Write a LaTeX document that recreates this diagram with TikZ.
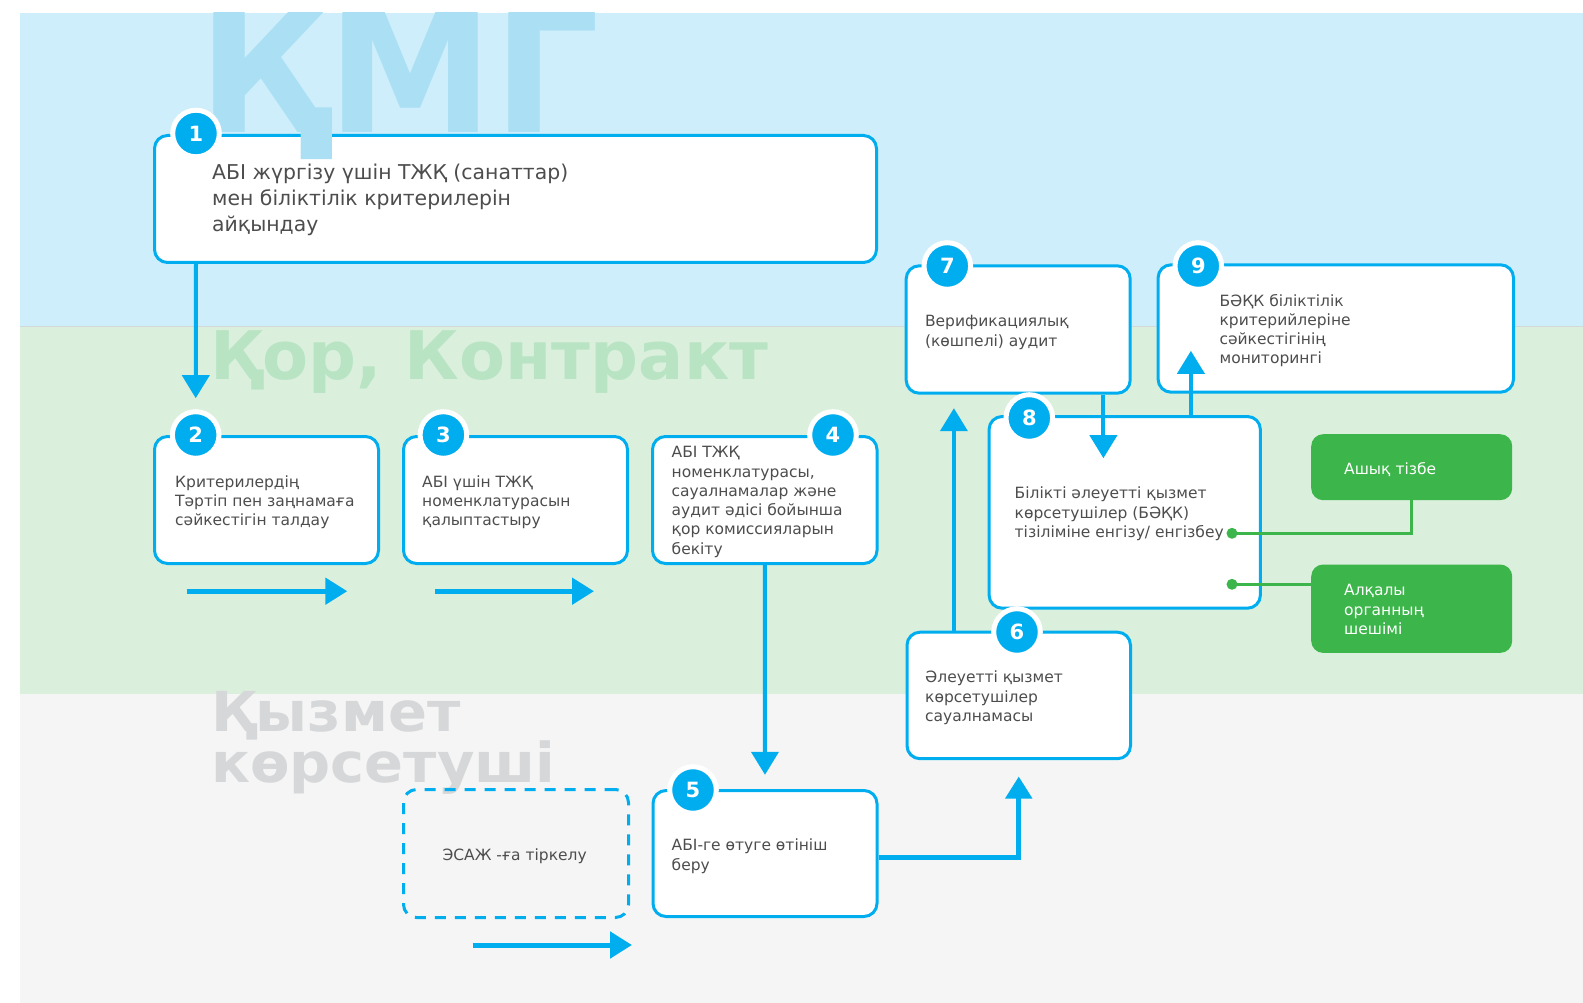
\documentclass[tikz,border=0pt]{standalone}
\usepackage{fontspec}
\setmainfont{DejaVu Sans}
\usetikzlibrary{arrows.meta}
\definecolor{kblue}{HTML}{00AEEF}
\definecolor{bandblue}{HTML}{CDEEFA}
\definecolor{bandgreen}{HTML}{DAEFDC}
\definecolor{bandgray}{HTML}{F4F5F4}
\definecolor{wmblue}{HTML}{AADFF4}
\definecolor{wmgreen}{HTML}{B8E4C4}
\definecolor{wmgray}{HTML}{D6D7D9}
\definecolor{kgreen}{HTML}{3CB54A}
\definecolor{txtgray}{HTML}{4D4D4D}
\definecolor{sepline}{HTML}{D3D9D8}
\newcommand\kbig{\fontsize{20.4}{26}\selectfont}
\newcommand\ksmall{\fontsize{15.5}{19.3}\selectfont}
\begin{document}
\begin{tikzpicture}[x=1pt,y=-1pt,
  box/.style={draw=kblue, line width=3pt, fill=white, rounded corners=13pt, inner sep=0pt, anchor=north west},
  dashbox/.style={draw=kblue, line width=3pt, dash pattern=on 11pt off 9pt, rounded corners=13pt, inner sep=0pt, anchor=north west},
  gbox/.style={fill=kgreen, rounded corners=12pt, inner sep=0pt, anchor=north west},
  num/.style={circle, fill=kblue, draw=white, line width=5pt, minimum size=46.6pt, inner sep=0pt, text=white, font=\bfseries\fontsize{21}{21}\selectfont},
  tx/.style={font=\ksmall, text=txtgray, align=left, inner sep=0pt, anchor=base west},
  gtx/.style={font=\ksmall, text=white, align=left, inner sep=0pt, anchor=base west},
  arr/.style={draw=kblue, line width=4pt, -{Triangle[length=23pt,width=27pt]}},
  fat/.style={draw=kblue, line width=5pt, -{Triangle[length=22pt,width=26pt]}},
  gline/.style={draw=kgreen, line width=2.5pt},
  gdot/.style={circle, fill=kgreen, minimum size=11pt, inner sep=0pt},
  wm/.style={font=\bfseries, inner sep=0pt, anchor=base west, align=left}
]
\useasboundingbox (0,0) rectangle (1583,1003);
% bands
\fill[bandblue] (19.5,12.7) rectangle (1583,326.7);
\fill[bandgreen] (19.5,326.7) rectangle (1583,693.5);
\fill[bandgray] (19.5,693.5) rectangle (1583,1003);
\draw[sepline, line width=1.5pt] (19.5,326.7) -- (1583,326.7);
% watermarks (anchor = baseline of last line)
\node[wm, text=wmgreen, font=\bfseries\fontsize{67}{67}\selectfont] (wm2) at (210,379) {Қор, Контракт};
\node[wm, text=wmgray, font=\bfseries\fontsize{55}{46}\selectfont, xscale=1.045, transform shape] (wm3) at (211,782.7) {Қызмет\\көрсетуші};
% boxes
\node[box, minimum width=722pt, minimum height=127pt] (b1) at (153,134) {};
\node[box, minimum width=224pt, minimum height=127pt] (b2) at (153,435) {};
\node[box, minimum width=224pt, minimum height=127pt] (b3) at (402,435) {};
\node[box, minimum width=224.5pt, minimum height=127pt] (b4) at (651,435) {};
\node[box, minimum width=224pt, minimum height=126pt] (b5) at (651.5,789) {};
\node[dashbox, minimum width=225pt, minimum height=128pt] (bd) at (402,788) {};
\node[box, minimum width=223.5pt, minimum height=126.5pt] (b6) at (905.5,630.7) {};
\node[box, minimum width=224pt, minimum height=127.4pt] (b7) at (904.7,264.3) {};
\node[box, minimum width=271.3pt, minimum height=191.7pt] (b8) at (987.6,415) {};
\node[box, minimum width=355.4pt, minimum height=127.4pt] (b9) at (1156.6,263.3) {};
\node[gbox, minimum width=201pt, minimum height=66pt] (g1) at (1311,434) {};
\node[gbox, minimum width=201pt, minimum height=88.4pt] (g2) at (1311,564.3) {};
% KMG watermark over box 1
\begin{scope}
\clip (0,12.7) rectangle (1583,1003);
\node[wm, text=wmblue, font=\bfseries\fontsize{173}{173}\selectfont, xscale=0.965, transform shape] (wm1) at (198,133) {ҚМГ};
\end{scope}
% numbers
\node[num] (c1) at (196,133.5) {1};
\node[num] (c2) at (195.7,435) {2};
\node[num] (c3) at (443.4,435) {3};
\node[num] (c4) at (833,435) {4};
\node[num] (c5) at (693,790) {5};
\node[num] (c6) at (1017,632) {6};
\node[num] (c7) at (947.3,266) {7};
\node[num] (c8) at (1029.3,418) {8};
\node[num] (c9) at (1198.3,266) {9};
% texts (anchor = baseline of last line)
\node[tx, font=\kbig] (t1) at (212,232) {АБІ жүргізу үшін ТЖҚ (санаттар)\\мен біліктілік критерилерін\\айқындау};
\node[tx] (t2) at (175,525.9) {Критерилердің\\Тәртіп пен заңнамаға\\сәйкестігін талдау};
\node[tx] (t3) at (422,525.9) {АБІ үшін ТЖҚ\\номенклатурасын\\қалыптастыру};
\node[tx] (t4) at (671.5,554.2) {АБІ ТЖҚ\\номенклатурасы,\\сауалнамалар және\\аудит әдісі бойынша\\қор комиссияларын\\бекіту};
\node[tx] (t5) at (671.5,870) {АБІ-ге өтуге өтініш\\беру};
\node[tx, anchor=base] (td) at (514.7,860) {ЭСАЖ -ға тіркелу};
\node[tx] (t6) at (925,721.3) {Әлеуетті қызмет\\көрсетушілер\\сауалнамасы};
\node[tx] (t7) at (924.8,346) {Верификациялық\\(көшпелі) аудит};
\node[tx] (t8) at (1014.5,537.3) {Білікті әлеуетті қызмет\\көрсетушілер (БӘҚК)\\тізіліміне енгізу/ енгізбеу};
\node[tx] (t9) at (1219.4,363.9) {БӘҚК біліктілік\\критерийлеріне\\сәйкестігінің\\мониторингі};
\node[gtx] (tg1) at (1344,474) {Ашық тізбе};
\node[gtx] (tg2) at (1344,634.3) {Алқалы\\органның\\шешімі};
% connectors
\draw[arr, shorten >=11pt] (b1.south -| c1) -- (c2.north);
\draw[arr, shorten >=14.2pt] (b4.south) -- (b5.north);
\draw[fat, shorten >=16.3pt] ([yshift=-4pt]b5.east) -| (b6.south);
\draw[arr, shorten >=13.5pt] ([xshift=48.4pt]b6.north west) -- ([xshift=48.4pt]b6.north west |- b7.south);
\draw[arr] ([xshift=-28.3pt]b7.south east) -- ++(0,63.5);
\draw[arr] ([xshift=203.3pt]b8.north west) -- ++(0,-64.2);
% decorative flow arrows
\coordinate (f1a) at (186.7,591.2); \coordinate (f1b) at (347.3,591.2);
\coordinate (f2a) at (435,591.2);   \coordinate (f2b) at (594,591.2);
\coordinate (f3a) at (472.7,945);   \coordinate (f3b) at (632,945);
\draw[fat] (f1a) -- (f1b);
\draw[fat] (f2a) -- (f2b);
\draw[fat] (f3a) -- (f3b);
% green links
\coordinate (d1) at (1232,533.3);
\coordinate (d2) at (1232,584.3);
\draw[gline] (g1.south) |- (d1);
\draw[gline] (d2) -- (d2 -| g2.west);
\node[gdot] (dot1) at (d1) {};
\node[gdot] (dot2) at (d2) {};
\end{tikzpicture}
\end{document}
